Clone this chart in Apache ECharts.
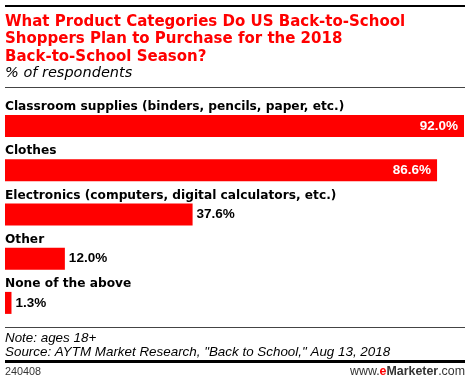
<!DOCTYPE html>
<html>
<head>
<meta charset="utf-8">
<script src="https://cdn.jsdelivr.net/npm/echarts@6/dist/echarts.min.js"></script>
<style>
html,body{margin:0;padding:0;background:#fff;}
#chart{width:470px;height:383px;}
</style>
</head>
<body>
<div id="chart"></div>
<script>
var categories = [
  "Classroom supplies (binders, pencils, paper, etc.)",
  "Clothes",
  "Electronics (computers, digital calculators, etc.)",
  "Other",
  "None of the above"
];
var values = [92.0, 86.6, 37.6, 12.0, 1.3];
var titleLines = [
  "What Product Categories Do US Back-to-School",
  "Shoppers Plan to Purchase for the 2018",
  "Back-to-School Season?"
];
var subtitle = "% of respondents";
var noteText = "Note: ages 18+";
var sourceText = 'Source: AYTM Market Research, "Back to School," Aug 13, 2018';
var chartId = "240408";

var FONT = "Liberation Sans, Arial, sans-serif";
var BOLD = "DejaVu Sans, sans-serif";
var chart = echarts.init(document.getElementById('chart'), null, {renderer: 'canvas'});

var valueData = values.map(function (v) {
  var inside = v > 50;
  return {
    value: v,
    label: {
      position: inside ? 'insideRight' : 'right',
      distance: inside ? 6 : 4,
      color: inside ? '#ffffff' : '#000000'
    }
  };
});

chart.setOption({
  animation: false,
  backgroundColor: '#ffffff',
  grid: {left: 5, width: 460, top: 104, height: 221, containLabel: false},
  xAxis: {type: 'value', min: 0, max: 92.2, show: false},
  yAxis: {type: 'category', data: categories, inverse: true, show: false},
  series: [
    {
      type: 'bar',
      data: valueData,
      barWidth: 22,
      itemStyle: {color: '#ff0000'},
      label: {
        show: true,
        formatter: function (p) { return p.value.toFixed(1) + '%'; },
        fontFamily: FONT,
        fontWeight: 'bold',
        fontSize: 13.5
      },
      z: 2
    },
    {
      type: 'bar',
      data: values,
      barWidth: 22,
      barGap: '-100%',
      itemStyle: {color: 'rgba(0,0,0,0)'},
      label: {
        show: true,
        position: [0, -8],
        align: 'left',
        verticalAlign: 'middle',
        formatter: function (p) { return categories[p.dataIndex]; },
        fontFamily: BOLD,
        fontWeight: 'bold',
        fontSize: 12.2,
        color: '#000000'
      },
      silent: true,
      z: 3
    }
  ],
  graphic: [
    {type: 'rect', shape: {x: 5, y: 5, width: 460, height: 2}, style: {fill: '#000'}},
    {type: 'text', x: 5, y: 13, style: {text: titleLines.join('\n'), fontFamily: BOLD, fontWeight: 'bold', fontSize: 15, lineHeight: 17.5, fill: '#ff0000'}},
    {type: 'text', x: 5, y: 66, style: {text: subtitle, fontFamily: BOLD, fontStyle: 'italic', fontSize: 14.5, fill: '#000'}},
    {type: 'rect', shape: {x: 5, y: 87, width: 460, height: 1}, style: {fill: '#444'}},
    {type: 'rect', shape: {x: 5, y: 327, width: 460, height: 1}, style: {fill: '#444'}},
    {type: 'text', x: 5, y: 331, style: {text: noteText + '\n' + sourceText, fontFamily: FONT, fontStyle: 'italic', fontSize: 13.4, lineHeight: 14, fill: '#000'}},
    {type: 'rect', shape: {x: 5, y: 360, width: 460, height: 3}, style: {fill: '#000'}},
    {type: 'text', x: 5, y: 367, style: {text: chartId, fontFamily: FONT, fontSize: 10.8, fill: '#333'}},
    {type: 'text', x: 465, y: 366, style: {
      text: '{w|www.}{e|e}{m|Marketer}{w|.com}', align: 'right', fontFamily: FONT, fontSize: 12.4,
      rich: {
        w: {fontFamily: FONT, fontSize: 12.4, fill: '#333'},
        e: {fontFamily: FONT, fontSize: 12.4, fontWeight: 'bold', fill: '#ff0000'},
        m: {fontFamily: FONT, fontSize: 12.4, fontWeight: 'bold', fill: '#333'}
      }
    }}
  ]
});
</script>
</body>
</html>
